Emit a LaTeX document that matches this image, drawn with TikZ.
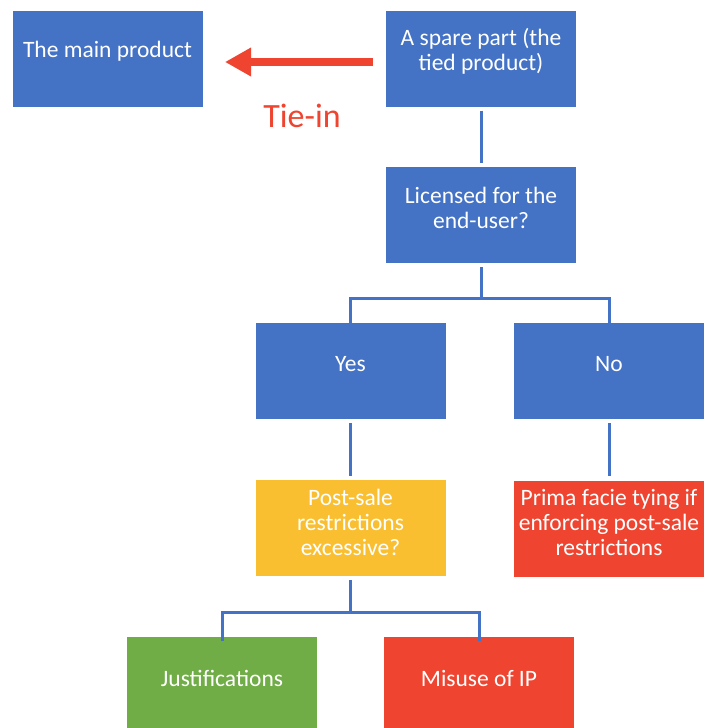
\documentclass[tikz,border=0pt]{standalone}
\usepackage{fontspec}
\setmainfont{Carlito}
\usetikzlibrary{arrows.meta}
\definecolor{cblue}{HTML}{4472C4}
\definecolor{cyellow}{HTML}{F9BF30}
\definecolor{cred}{HTML}{EE4430}
\definecolor{cgreen}{HTML}{70AD47}
\tikzset{
  box/.style={rectangle, minimum width=190pt, minimum height=96pt, inner sep=0pt, draw=none},
  lbl/.style={text=white, align=center, font=\fontsize{23.5}{25}\selectfont, inner sep=0pt},
  conn/.style={draw=cblue, line width=3pt},
  tiearrow/.style={draw=cred, line width=8pt, -{Triangle[length=26pt,width=27pt]}},
}
\begin{document}
\begin{tikzpicture}[x=1pt,y=-1pt]
\useasboundingbox (0,0) rectangle (704,728);
\clip (0,0) rectangle (704,728);
\fill[white] (0,0) rectangle (704,728);
% boxes
\node[box, fill=cblue]   (main)  at (107.5,58.5) {};
\node[box, fill=cblue]   (spare) at (481,58.5) {};
\node[box, fill=cblue]   (lic)   at (481,215) {};
\node[box, fill=cblue]   (yes)   at (350.5,371) {};
\node[box, fill=cblue]   (no)    at (609,371) {};
\node[box, fill=cyellow] (post)  at (350.5,528) {};
\node[box, fill=cred]    (prima) at (609,528.5) {};
\node[box, fill=cgreen]  (just)  at (222,685) {};
\node[box, fill=cred]    (mis)   at (479,685) {};
% labels
\node[lbl] at ([yshift=7pt]main.center)  {The main product};
\node[lbl] at ([yshift=7pt]spare.center) {A spare part (the\\tied product)};
\node[lbl] at ([yshift=7pt]lic.center)   {Licensed for the\\end-user?};
\node[lbl] at ([yshift=7pt]yes.center)   {Yes};
\node[lbl] at ([yshift=7pt]no.center)    {No};
\node[lbl] at ([yshift=6pt]post.center)  {Post-sale\\restrictions\\excessive?};
\node[lbl] at ([yshift=6pt]prima.center) {Prima facie tying if\\enforcing post-sale\\restrictions};
\node[lbl] at ([yshift=7pt]just.center)  {Justifications};
\node[lbl] at ([yshift=7pt]mis.center)   {Misuse of IP};
% Tie-in arrow
\coordinate (atail) at ([xshift=-13pt]spare.west |- 0,62);
\coordinate (ahead) at (225,62);
\draw[tiearrow] (atail) -- (ahead);
\node[text=cred, font=\fontsize{34}{40}\selectfont, inner sep=0pt, anchor=base] (tie) at (302,127) {Tie-in};
% connectors
\draw[conn] ([yshift=-4pt]spare.south) -- ([yshift=4pt]lic.north);
\coordinate (j1) at (481,298);
\draw[conn] ([yshift=-4pt]lic.south) -- (j1);
\draw[conn] ([yshift=-3pt]yes.north) |- (j1) -| ([yshift=-3pt]no.north);
\draw[conn] ([yshift=-4pt]yes.south) -- ([yshift=4pt]post.north);
\draw[conn] ([yshift=-4pt]no.south) -- ([yshift=4pt]prima.north);
\coordinate (j2) at (350.5,612);
\draw[conn] ([yshift=-4pt]post.south) -- (j2);
\draw[conn] ([yshift=-4pt]just.north) |- (j2) -| ([yshift=-4pt]mis.north);
\end{tikzpicture}
\end{document}
